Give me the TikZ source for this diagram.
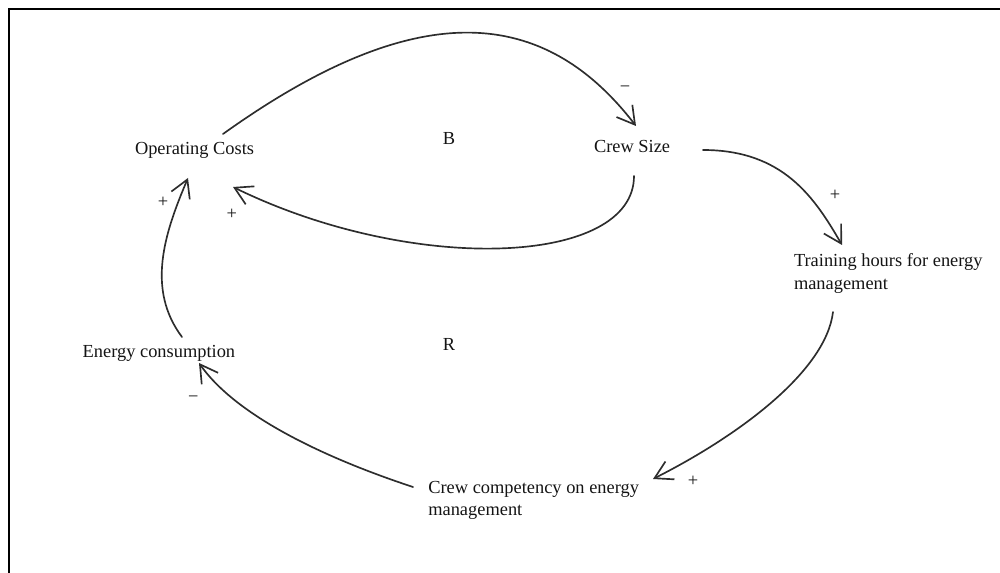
\documentclass[tikz,border=0pt]{standalone}
\usepackage{fontspec}
\setmainfont{Liberation Serif}
\usetikzlibrary{arrows.meta}
\definecolor{ink}{RGB}{20,20,20}
\definecolor{wire}{RGB}{45,45,45}
\begin{document}
\begin{tikzpicture}[x=0.75pt,y=0.75pt,
  every node/.style={inner sep=0pt, outer sep=0pt, text=ink,
    font=\fontsize{13.8pt}{17pt}\selectfont},
  factor/.style={anchor=base west, align=left},
  polarity/.style={anchor=base},
  loopmark/.style={anchor=base},
  link/.style={draw=wire, line width=1.25pt, line cap=round, line join=round,
    -{Straight Barb[length=13pt,width=15pt]}},
  outline/.style={draw=black, line width=1.5pt}]
\useasboundingbox (0,0) rectangle (1000,573);
\clip (0,0) rectangle (1000,573);

% surrounding frame (open to the right and bottom)
\draw[outline] (8.5,-5) -- (8.5,564) -- (1005,564);

% variables (two-line labels are anchored on their last line)
\node[factor] (oc) at (135,418)   {Operating Costs};
\node[factor] (cs) at (594,420.3) {Crew Size};
\node[factor] (th) at (794,283.7) {Training hours for energy\\management};
\node[factor] (ec) at (82.7,215.3) {Energy consumption};
\node[factor] (cc) at (428.3,57.1) {Crew competency on energy\\management};

% loop identifiers
\node[loopmark] (lb) at (449,428) {B};
\node[loopmark] (lr) at (449,222) {R};

% causal links
\draw[link] ([shift={(88,21)}]oc.base west)
  .. controls (420,580) and (545,565) .. ([shift={(42,26.7)}]cs.base west);
\draw[link] ([shift={(40,-23.3)}]cs.base west)
  .. controls (634,307) and (413,298) .. ([shift={(98,-32)}]oc.base west);
\draw[link] ([shift={(109,2.7)}]cs.base west)
  .. controls (783,423) and (814.5,375.6) .. ([shift={(48,44.3)}]th.base west);
\draw[link] ([shift={(39,-22.7)}]th.base west)
  .. controls (826,203) and (742,139) .. ([shift={(224.7,36.9)}]cc.base west);
\draw[link] ([shift={(-15.3,28.9)}]cc.base west)
  .. controls (337,111) and (239,153) .. ([shift={(116.3,-5.3)}]ec.base west);
\draw[link] ([shift={(99.3,20.7)}]ec.base west)
  .. controls (146,284) and (164.6,340) .. ([shift={(53,-23)}]oc.base west);

% link polarities
\node[polarity] (p1) at (625,480.7)   {−};
\node[polarity] (p2) at (231.7,353.4) {+};
\node[polarity] (p3) at (835,372.7)   {+};
\node[polarity] (p4) at (693,86.7)    {+};
\node[polarity] (p5) at (193.3,170.7) {−};
\node[polarity] (p6) at (163,365.4)   {+};
\end{tikzpicture}
\end{document}
